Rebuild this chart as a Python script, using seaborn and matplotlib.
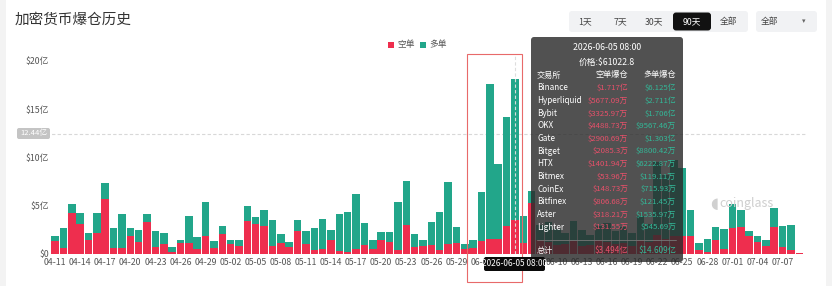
import pandas as pd
import matplotlib
matplotlib.use("Agg")
import matplotlib.pyplot as plt
from matplotlib.patches import FancyBboxPatch, Rectangle
import seaborn as sns

# 90 days of liquidations, values in 亿 USD
dates = pd.date_range("2026-04-11", periods=90).strftime("%m-%d").tolist()

short_liq = [1.3, 0.6, 4.2, 3.1, 1.4, 2.2, 5.7, 0.6, 0.6, 1.9,
             1.25, 3.3, 0.7, 1.0, 0.25, 1.15, 1.15, 0.55, 1.9, 0.6,
             2.1, 1.07, 0.8, 3.4, 3.07, 2.9, 0.8, 1.15, 0.7, 2.35,
             1.07, 0.38, 0.5, 1.45, 0.35, 0.2, 0.55, 0.9, 0.5, 1.4,
             1.25, 0.45, 3.0, 0.7, 0.8, 0.9, 0.45, 1.0, 1.15, 0.5,
             0.65, 1.35, 1.55, 1.55, 2.85, 3.494, 1.15, 5.3, 1.5, 1.2,
             0.9, 1.0, 1.3, 0.8, 0.9, 1.4, 1.2, 1.0, 1.1, 0.8,
             1.5, 1.2, 2.0, 1.6, 1.9, 1.87, 1.87, 0.4, 0.25, 1.45,
             0.5, 2.65, 2.8, 1.9, 1.27, 0.86, 2.8, 0.76, 0.4, 0.13]

long_liq = [0.6, 2.1, 1.0, 1.1, 0.8, 2.0, 1.7, 2.1, 3.5, 0.8,
            1.25, 0.8, 1.7, 1.2, 0.45, 0.3, 2.75, 1.2, 3.45, 0.7,
            0.8, 0.43, 0.6, 1.6, 0.73, 1.7, 2.75, 0.92, 0.5, 1.2,
            1.28, 2.32, 3.15, 1.0, 3.75, 4.2, 5.7, 2.3, 1.0, 0.9,
            1.0, 4.95, 4.6, 1.37, 0.6, 2.4, 3.9, 6.45, 1.6, 0.57,
            0.75, 5.05, 16.05, 7.75, 11.35, 14.609, 2.75, 1.25, 1.5, 2.1,
            1.7, 1.2, 2.1, 1.7, 1.1, 1.5, 2.0, 1.4, 1.7, 1.4,
            2.4, 1.9, 7.5, 6.6, 7.8, 7.03, 2.73, 0.77, 1.35, 1.3,
            2.05, 2.5, 1.8, 0.5, 0.63, 0.59, 2.0, 2.14, 2.65, 0.0]

yticks = [0, 5, 10, 15, 20]
ytick_labels = ["$0", "$5亿", "$10亿", "$15亿", "$20亿"]
avg_line = 12.44

# tooltip content for 2026-06-05
tip_exchanges = ["Binance", "Hyperliquid", "Bybit", "OKX", "Gate", "Bitget", "HTX",
                 "Bitmex", "CoinEx", "Bitfinex", "Aster", "Lighter"]
tip_short = ["$1.717亿", "$5677.09万", "$3325.97万", "$4488.73万", "$2900.69万", "$2085.3万",
             "$1401.94万", "$53.96万", "$148.73万", "$806.68万", "$318.21万", "$131.55万"]
tip_long = ["$6.125亿", "$2.711亿", "$1.706亿", "$9567.46万", "$1.303亿", "$8800.42万",
            "$6222.87万", "$119.11万", "$715.93万", "$121.45万", "$1535.97万", "$545.69万"]

RED = "#ee2e4e"
GREEN = "#22a68a"

sns.set_theme(style="white")
plt.rcParams["font.family"] = ["Noto Sans CJK SC", "DejaVu Sans"]

df = pd.DataFrame({"date": dates, "short": short_liq, "long": long_liq})
df["total"] = df["short"] + df["long"]

fig = plt.figure(figsize=(8.32, 2.86), dpi=100)
ax = fig.add_axes([46 / 832, 1 - 254 / 286, 760 / 832, 198 / 286])

sns.barplot(data=df, x="date", y="total", color=GREEN, saturation=1, width=0.9,
            linewidth=0, ax=ax)
sns.barplot(data=df, x="date", y="short", color=RED, saturation=1, width=0.9,
            linewidth=0, ax=ax)

# labels hidden under the hover box in the original
xlabels = [d if d not in ("06-04", "06-07") else "" for d in dates[::3]]

ax.set_xlim(-1.08, 89.8)
ax.set_ylim(0, 20.5)
ax.set_xlabel("")
ax.set_ylabel("")
ax.set_xticks(range(0, 90, 3))
ax.set_xticklabels(xlabels, fontsize=6.3, color="#555555")
ax.set_yticks(yticks)
ax.set_yticklabels(ytick_labels, fontsize=6.3, color="#555555")
ax.tick_params(axis="x", length=0, pad=3)
ax.tick_params(axis="y", length=0, pad=-2)
sns.despine(ax=ax, left=True, bottom=True, top=True, right=True)
ax.axhline(avg_line, color="#d8d8d8", lw=0.8, ls=(0, (3, 2)), zorder=0)
ax.axvline(55, color="#dddddd", lw=0.8, ls=(0, (3, 2)), zorder=3)

# overlay in pixel coordinates for UI decorations
ov = fig.add_axes([0, 0, 1, 1], zorder=5)
ov.set_xlim(0, 832)
ov.set_ylim(286, 0)
ov.axis("off")
ov.patch.set_alpha(0)

ov.add_patch(Rectangle((0, 0), 6, 286, color="#f3f3f3", lw=0))
ov.add_patch(Rectangle((826, 0), 6, 286, color="#f3f3f3", lw=0))

ov.text(15, 20, "加密货币爆仓历史", fontsize=10.5, color="#333333", va="center")

# period buttons
ov.add_patch(FancyBboxPatch((569, 11), 179, 21, boxstyle="round,pad=0,rounding_size=3",
                            fc="#f1f2f4", ec="none"))
ov.add_patch(FancyBboxPatch((673, 12.5), 38, 18, boxstyle="round,pad=0,rounding_size=3",
                            fc="#111111", ec="none"))
for lx, lab in zip([585, 620, 654, 692, 729], ["1天", "7天", "30天", "90天", "全部"]):
    ov.text(lx, 21.5, lab, fontsize=6.3, ha="center", va="center",
            color="white" if lab == "90天" else "#444444")
ov.add_patch(FancyBboxPatch((756, 11), 61, 21, boxstyle="round,pad=0,rounding_size=3",
                            fc="#f1f2f4", ec="none"))
ov.text(770, 21.5, "全部", fontsize=6.3, ha="center", va="center", color="#444444")
ov.text(804, 21.5, "▾", fontsize=5, ha="center", va="center", color="#666666")

# legend
ov.add_patch(Rectangle((388, 42), 6, 6, color=RED, lw=0))
ov.text(397, 45, "空单", fontsize=6.3, va="center", color="#555555")
ov.add_patch(Rectangle((420, 42), 6, 6, color=GREEN, lw=0))
ov.text(429, 45, "多单", fontsize=6.3, va="center", color="#555555")

# average marker label
ov.add_patch(FancyBboxPatch((17, 128), 33, 11, boxstyle="round,pad=0,rounding_size=2",
                            fc="#c4c4c4", ec="none"))
ov.text(33.5, 133.5, "12.44亿", fontsize=5.5, ha="center", va="center", color="white")

# watermark
ov.text(714, 203, "◖", fontsize=11, ha="center", va="center", color="#d0d0d0")
ov.text(746, 203, "coinglass", fontsize=9, ha="center", va="center", color="#cfcfcf")

# highlighted day
ov.add_patch(Rectangle((467, 54), 55, 228, fill=False, ec="#e86a6a", lw=0.8))

# tooltip
ov.add_patch(FancyBboxPatch((531, 37), 152, 225, boxstyle="round,pad=0,rounding_size=3",
                            fc=(0.17, 0.17, 0.17, 0.82), ec="none"))
ov.text(607, 48, "2026-06-05 08:00", fontsize=6.3, ha="center", va="center", color="white")
ov.text(607, 62, "价格:$61022.8", fontsize=6.3, ha="center", va="center", color="white")
ov.text(537, 75, "交易所", fontsize=5.9, va="center", color="white")
ov.text(628, 75, "空单爆仓", fontsize=5.9, ha="right", va="center", color="white")
ov.text(676, 75, "多单爆仓", fontsize=5.9, ha="right", va="center", color="white")
for i, (ex, s, l) in enumerate(zip(tip_exchanges, tip_short, tip_long)):
    ty = 88 + i * 12.65
    ov.text(537, ty, ex, fontsize=5.9, va="center", color="white")
    ov.text(628, ty, s, fontsize=5.6, ha="right", va="center", color="#e8506a")
    ov.text(676, ty, l, fontsize=5.6, ha="right", va="center", color="#33b898")
ov.plot([537, 676], [240, 240], color="#777777", lw=0.6)
ov.text(537, 251, "总计", fontsize=5.9, va="center", color="white")
ov.text(628, 251, "$3.494亿", fontsize=5.9, ha="right", va="center", color="#e8506a")
ov.text(676, 251, "$14.609亿", fontsize=5.9, ha="right", va="center", color="#33b898")

# hovered x label
ov.add_patch(FancyBboxPatch((484, 257), 61, 14, boxstyle="round,pad=0,rounding_size=2",
                            fc="#0a0a0a", ec="none"))
ov.text(514.5, 264, "2026-06-05 08:00", fontsize=6.0, ha="center", va="center", color="white")

fig.savefig("out.png", dpi=100)
